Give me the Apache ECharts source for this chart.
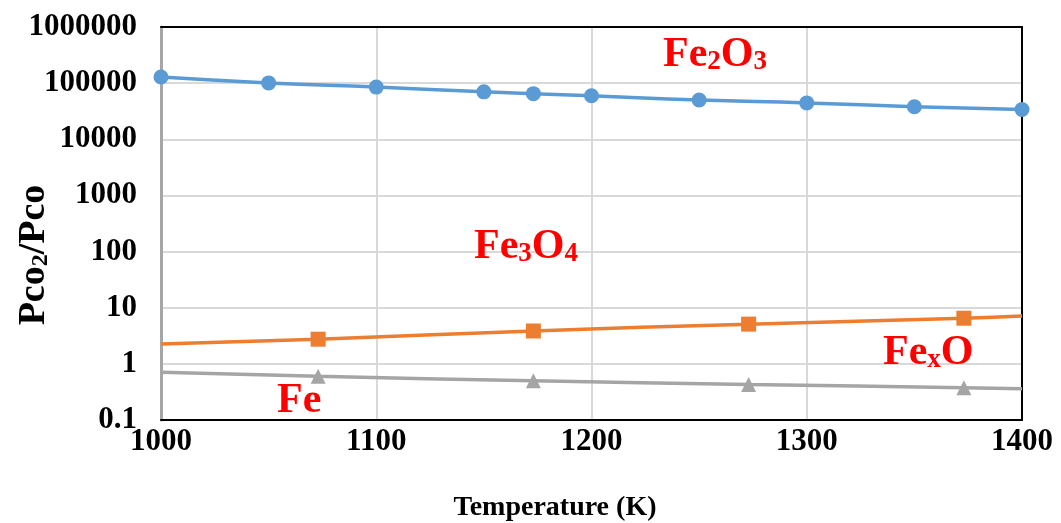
<html>
<head>
<meta charset="utf-8">
<script src="https://cdn.jsdelivr.net/npm/echarts@6/dist/echarts.min.js"></script>
</head>
<body style="margin:0;padding:0;">
<div id="myChart" style="width:1061px;height:523px;"></div>
<script type="text/javascript">
var fe2o3T = [1000, 1050, 1100, 1150, 1173, 1200, 1250, 1300, 1350, 1400];
var fe2o3V = [129000, 101000, 85000, 70000, 65000, 59500, 50000, 44500, 38000, 34000];
var fe3o4T = [1000, 1073, 1173, 1273, 1373, 1400];
var fe3o4V = [2.25, 2.75, 3.85, 5.1, 6.5, 7.1];
var fexoT = [1000, 1073, 1173, 1273, 1373, 1400];
var fexoV = [0.71, 0.6, 0.5, 0.43, 0.375, 0.36];
// first and last points are trendline ends, no marker
var yTicks = ['0.1', '1', '10', '100', '1000', '10000', '100000', '1000000'];

var font = 'Liberation Serif, Times New Roman, serif';

function trend(ts, vs) {
	var out = [];
	for (var i = 0; i < ts.length; i++) {
		var p = {value: [ts[i], vs[i]]};
		if (i == 0 || i == ts.length - 1) p.symbol = 'none';
		out.push(p);
	}
	return out;
}
function pairs(ts, vs) {
	var out = [];
	for (var i = 0; i < ts.length; i++) out.push([ts[i], vs[i]]);
	return out;
}

var sub = {fontFamily: font, fontWeight: 'bold', fontSize: 27, fill: '#ff0000', verticalAlign: 'bottom', lineHeight: 42};
var big = {fontFamily: font, fontWeight: 'bold', fontSize: 42, fill: '#ff0000', verticalAlign: 'bottom', lineHeight: 42};
var tickFont = {color: '#000', fontFamily: font, fontWeight: 'bold', fontSize: 31};

var option = {
	animation: false,
	grid: {left: 161, right: 39, top: 27, bottom: 103},
	xAxis: [{
		type: 'value', min: 1000, max: 1400, interval: 100,
		axisLine: {show: true, lineStyle: {color: '#000', width: 2}},
		axisTick: {show: false},
		axisLabel: Object.assign({margin: 6, formatter: function (v) { return String(v); }}, tickFont),
		splitLine: {show: true, lineStyle: {color: '#d9d9d9', width: 2}}
	}, {
		type: 'value', min: 1000, max: 1400, position: 'top',
		axisLine: {show: true, lineStyle: {color: '#000', width: 2}},
		axisTick: {show: false}, axisLabel: {show: false}, splitLine: {show: false}
	}],
	yAxis: [{
		type: 'log', logBase: 10, min: 0.1, max: 1000000,
		axisLine: {show: true, lineStyle: {color: '#a6a6a6', width: 3}},
		axisTick: {show: false},
		axisLabel: Object.assign({
			margin: 24,
			formatter: function (v) {
				var idx = Math.round(Math.log10(v)) + 1;
				return yTicks[idx];
			}
		}, tickFont),
		splitLine: {show: true, lineStyle: {color: '#d9d9d9', width: 2}}
	}, {
		type: 'log', logBase: 10, min: 0.1, max: 1000000, position: 'right',
		axisLine: {show: true, lineStyle: {color: '#000', width: 2}},
		axisTick: {show: false}, axisLabel: {show: false}, splitLine: {show: false}
	}],
	series: [
		{
			type: 'line', data: pairs(fe2o3T, fe2o3V), smooth: true,
			symbol: 'circle', symbolSize: 15,
			lineStyle: {color: '#5b9bd5', width: 3.5},
			itemStyle: {color: '#5b9bd5'}
		},
		{
			type: 'line', data: trend(fe3o4T, fe3o4V), smooth: true,
			symbol: 'rect', symbolSize: 15, showAllSymbol: true,
			lineStyle: {color: '#ed7d31', width: 3.5},
			itemStyle: {color: '#ed7d31'}
		},
		{
			type: 'line', data: trend(fexoT, fexoV), smooth: true,
			symbol: 'triangle', symbolSize: 15, showAllSymbol: true,
			lineStyle: {color: '#a5a5a5', width: 3.5},
			itemStyle: {color: '#a5a5a5'}
		}
	],
	graphic: [
		{type: 'text', z: 100, left: 663, top: 34, style: {rich: {a: big, b: sub}, text: '{a|Fe}{b|2}{a|O}{b|3}'}},
		{type: 'text', z: 100, left: 474, top: 226, style: {rich: {a: big, b: sub}, text: '{a|Fe}{b|3}{a|O}{b|4}'}},
		{type: 'text', z: 100, left: 883, top: 332, style: {rich: {a: big, b: sub}, text: '{a|Fe}{b|x}{a|O}'}},
		{type: 'text', z: 100, left: 277, top: 380, style: {rich: {a: big}, text: '{a|Fe}'}},
		{type: 'text', x: 555, y: 508, style: {text: 'Temperature (K)', fill: '#000', font: 'bold 28px ' + font, align: 'center', verticalAlign: 'middle'}},
		{
			type: 'text', x: 34, y: 255, rotation: Math.PI / 2,
			style: {
				rich: {
					a: {fontFamily: font, fontWeight: 'bold', fontSize: 38, fill: '#000', verticalAlign: 'bottom', lineHeight: 38},
					b: {fontFamily: font, fontWeight: 'bold', fontSize: 24, fill: '#000', verticalAlign: 'bottom', lineHeight: 30}
				},
				text: '{a|Pco}{b|2}{a|/Pco}', align: 'center', verticalAlign: 'middle'
			}
		}
	]
};
echarts.init(document.getElementById('myChart')).setOption(option);
</script>
</body>
</html>
